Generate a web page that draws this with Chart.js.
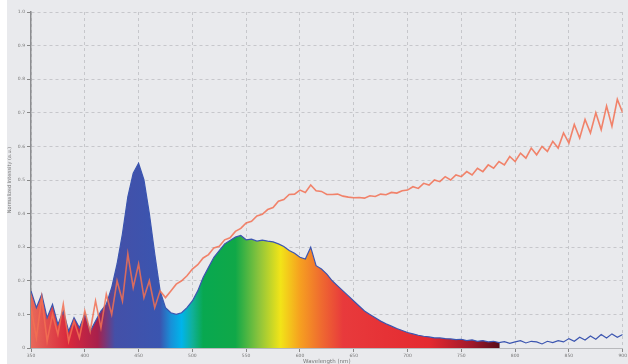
<!DOCTYPE html>
<html>
<head>
<meta charset="utf-8">
<script src="https://cdn.jsdelivr.net/npm/chart.js@4"></script>
<style>
  html, body { margin: 0; padding: 0; background: #fff; }
  #wrap { width: 628px; height: 364px; }
</style>
</head>
<body>
<div id="wrap"><canvas id="spectrumChart" width="628" height="364"></canvas></div>
<script>
// sample grid, 5 nm steps from 350 to 900 nm
const wavelengths = Array.from({ length: 111 }, (_, i) => 350 + i * 5);

const xTicks = [350, 400, 450, 500, 550, 600, 650, 700, 750, 800, 850, 900];
const yTicks = [0, 0.1, 0.2, 0.3, 0.4, 0.5, 0.6, 0.7, 0.8, 0.9, 1];

// emission spectrum (blue outline, rainbow fill)
const emission = [
  0.17, 0.12, 0.16, 0.09, 0.13, 0.07, 0.11, 0.05, 0.09, 0.06,   // 350-395
  0.10, 0.05, 0.08, 0.11, 0.13, 0.18, 0.25, 0.34, 0.45, 0.52,   // 400-445
  0.55, 0.50, 0.40, 0.28, 0.17, 0.12, 0.105, 0.10, 0.105, 0.12, // 450-495
  0.14, 0.17, 0.21, 0.24, 0.27, 0.29, 0.31, 0.32, 0.33, 0.335,  // 500-545
  0.322, 0.324, 0.318, 0.321, 0.318, 0.316, 0.31, 0.302, 0.29, 0.282, // 550-595
  0.27, 0.265, 0.30, 0.245, 0.235, 0.22, 0.20, 0.185, 0.17, 0.155, // 600-645
  0.14, 0.125, 0.11, 0.10, 0.09, 0.08, 0.072, 0.065, 0.058, 0.052, // 650-695
  0.046, 0.042, 0.038, 0.035, 0.033, 0.03, 0.03, 0.028, 0.027, 0.025, // 700-745
  0.026, 0.022, 0.024, 0.02, 0.022, 0.018, 0.02, 0.016, 0.019, 0.014, // 750-795
  0.018, 0.022, 0.015, 0.02, 0.018, 0.012, 0.02, 0.016, 0.022, 0.018, // 800-845
  0.028, 0.02, 0.032, 0.024, 0.036, 0.026, 0.04, 0.03, 0.042, 0.032, // 850-895
  0.04                                                               // 900
];

// transmission curve (orange-red line)
const transmission = [
  0.12, 0.03, 0.15, 0.02, 0.10, 0.04, 0.13, 0.02, 0.08, 0.03,   // 350-395
  0.11, 0.05, 0.14, 0.06, 0.16, 0.10, 0.20, 0.14, 0.28, 0.18,   // 400-445
  0.25, 0.15, 0.20, 0.12, 0.17, 0.15, 0.17, 0.19, 0.20, 0.215,  // 450-495
  0.235, 0.248, 0.268, 0.278, 0.298, 0.303, 0.322, 0.328, 0.347, 0.356, // 500-545
  0.372, 0.377, 0.393, 0.398, 0.412, 0.418, 0.437, 0.442, 0.457, 0.458, // 550-595
  0.47, 0.463, 0.485, 0.468, 0.466, 0.457, 0.457, 0.458, 0.452, 0.449, // 600-645
  0.447, 0.448, 0.446, 0.453, 0.451, 0.458, 0.456, 0.463, 0.461, 0.468, // 650-695
  0.47, 0.48, 0.475, 0.49, 0.485, 0.50, 0.495, 0.51, 0.50, 0.515,  // 700-745
  0.51, 0.525, 0.515, 0.535, 0.525, 0.545, 0.535, 0.555, 0.545, 0.57, // 750-795
  0.555, 0.58, 0.565, 0.595, 0.575, 0.60, 0.585, 0.615, 0.595, 0.64,  // 800-845
  0.61, 0.665, 0.625, 0.68, 0.64, 0.70, 0.65, 0.72, 0.66, 0.74,       // 850-895
  0.70                                                                // 900
];

// colour stops of the fill, by wavelength
const fillStops = [
  [350, '#e86a5a'], [385, '#d8283c'], [412, '#a8204c'], [428, '#4450a8'],
  [470, '#3a55b0'], [480, '#1890d8'], [490, '#00b4ea'], [500, '#10b09a'],
  [510, '#08a850'], [540, '#10a848'], [562, '#8cc43c'], [582, '#f2e418'],
  [600, '#f6a020'], [620, '#ef6a30'], [640, '#e83a3c'], [720, '#e42a30'],
  [760, '#a0182a'], [785, '#5a0c18'], [786, 'rgba(0,0,0,0)'], [900, 'rgba(0,0,0,0)']
];

function rainbowFill(context) {
  const chart = context.chart;
  if (!chart.chartArea) return null;
  const xs = chart.scales.x;
  const x0 = xs.getPixelForValue(350), x1 = xs.getPixelForValue(900);
  const g = chart.ctx.createLinearGradient(x0, 0, x1, 0);
  fillStops.forEach(([w, c]) => g.addColorStop((w - 350) / 550, c));
  return g;
}

const panelBg = {
  id: 'panelBg',
  beforeDraw(chart) {
    const c = chart.ctx;
    c.save();
    c.fillStyle = '#e9eaed';
    c.fillRect(7, 0, chart.width - 7, chart.height);
    c.restore();
  }
};

const tickFont = { family: 'DejaVu Sans', size: 4.5 };
const grid = { color: '#c6c7cb', lineWidth: 1, tickLength: 4, tickColor: '#888' };

new Chart(document.getElementById('spectrumChart'), {
  type: 'line',
  data: {
    datasets: [
      {
        label: 'Transmission',
        data: wavelengths.map((w, i) => ({ x: w, y: transmission[i] })),
        borderColor: 'rgba(242,112,82,0.85)',
        borderWidth: 1.6,
        pointRadius: 0,
        fill: false
      },
      {
        label: 'Emission',
        data: wavelengths.map((w, i) => ({ x: w, y: emission[i] })),
        borderColor: '#3b55b0',
        borderWidth: 1.2,
        backgroundColor: rainbowFill,
        pointRadius: 0,
        fill: 'origin'
      }
    ]
  },
  options: {
    responsive: false,
    animation: false,
    layout: { padding: { top: 12, right: 1, left: 3, bottom: 0 } },
    plugins: { legend: { display: false }, tooltip: { enabled: false } },
    scales: {
      x: {
        type: 'linear',
        min: 350,
        max: 900,
        afterBuildTicks: axis => { axis.ticks = xTicks.map(v => ({ value: v })); },
        afterFit: axis => { axis.height = 16; },
        ticks: { font: tickFont, color: '#777', padding: 1, maxRotation: 0 },
        grid: grid,
        border: { color: '#b8b9bc', width: 1, dash: [3, 3] },
        title: {
          display: true,
          text: 'Wavelength (nm)',
          font: { family: 'DejaVu Sans', size: 5.5, lineHeight: 1 },
          color: '#777',
          padding: { top: 0, bottom: 0 }
        }
      },
      y: {
        min: 0,
        max: 1,
        afterBuildTicks: axis => { axis.ticks = yTicks.map(v => ({ value: v })); },
        afterFit: axis => { axis.width = 28; },
        ticks: { font: tickFont, color: '#777', padding: 2 },
        grid: grid,
        border: { color: '#8c8d90', width: 1.5, dash: [3, 3] },
        title: {
          display: true,
          text: 'Normalized Intensity (a.u.)',
          font: { family: 'DejaVu Sans', size: 5, lineHeight: 1.2 },
          color: '#777'
        }
      }
    }
  },
  plugins: [panelBg]
});
</script>
</body>
</html>
